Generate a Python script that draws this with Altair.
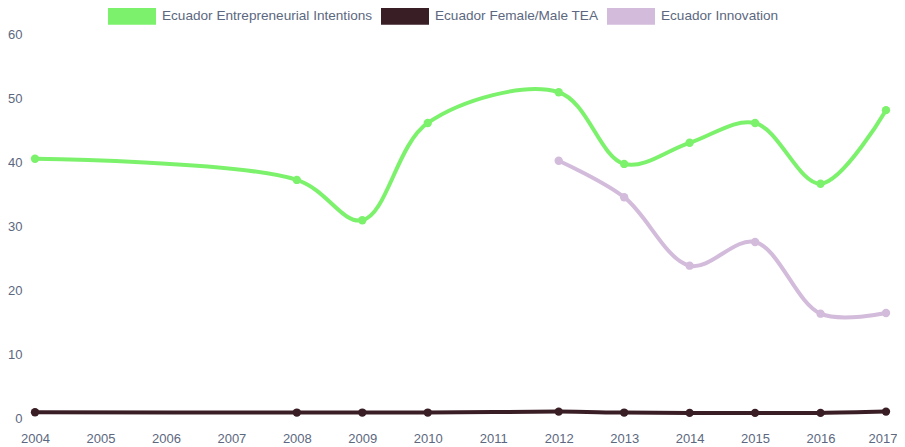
import altair as alt
import pandas as pd

years = [2004, 2008, 2009, 2010, 2012, 2013, 2014, 2015, 2016, 2017]
intentions = [40.5, 37.2, 30.9, 46.1, 50.9, 39.7, 43.0, 46.1, 36.6, 48.1]
female_male = [0.9, 0.85, 0.85, 0.85, 1.0, 0.85, 0.8, 0.8, 0.8, 1.0]
innov_years = [2012, 2013, 2014, 2015, 2016, 2017]
innovation = [40.2, 34.5, 23.8, 27.5, 16.3, 16.4]

series_names = ["Ecuador Entrepreneurial Intentions", "Ecuador Female/Male TEA", "Ecuador Innovation"]
colors = ["#7cf26c", "#3a1e25", "#d3bbdb"]
year_ticks = list(range(2004, 2018))

rows = []
for y, v in zip(years, intentions):
    rows.append({"year": y, "value": v, "series": series_names[0]})
for y, v in zip(years, female_male):
    rows.append({"year": y, "value": v, "series": series_names[1]})
for y, v in zip(innov_years, innovation):
    rows.append({"year": y, "value": v, "series": series_names[2]})
df = pd.DataFrame(rows)

font = "Liberation Sans"
label_color = "#5c6880"

color = alt.Color(
    "series:N",
    scale=alt.Scale(domain=series_names, range=colors),
    legend=alt.Legend(
        title=None,
        orient="none",
        legendX=73,
        legendY=-42,
        direction="horizontal",
        symbolType="M-1,-0.36 L1,-0.36 L1,0.36 L-1,0.36 Z",
        symbolSize=2304,
        symbolStrokeWidth=0,
        labelFont=font,
        labelFontSize=13.6,
        labelColor=label_color,
        labelLimit=0,
        labelOffset=6,
        columnPadding=8,
        padding=0,
    ),
)

x = alt.X(
    "year:Q",
    scale=alt.Scale(domain=[2004, 2017], nice=False, zero=False),
    axis=alt.Axis(
        title=None, values=year_ticks, format="d", ticks=False, domain=False,
        grid=False, labelFont=font, labelFontSize=13, labelColor=label_color,
        labelPadding=14, labelFlush=False, labelOverlap=False,
        labelAlign=alt.expr("datum.value == 2017 ? 'right' : 'center'"),
        labelOffset=alt.expr("datum.value == 2017 ? 11 : 0"),
    ),
)
y = alt.Y(
    "value:Q",
    scale=alt.Scale(domain=[0, 60], nice=False),
    axis=alt.Axis(
        title=None, values=[0, 10, 20, 30, 40, 50, 60], ticks=False, domain=False,
        grid=False, labelFont=font, labelFontSize=13, labelColor=label_color,
        labelPadding=13,
    ),
)

base = alt.Chart(df).encode(x=x, y=y, color=color, detail="series:N")
lines = base.mark_line(interpolate="catmull-rom", strokeWidth=4)
points = base.mark_circle(size=70, opacity=1)

chart = (
    alt.layer(lines, points)
    .properties(width=851, height=384, background="white",
                padding={"left": 27, "top": 26, "right": 11, "bottom": 29},
                autosize=alt.AutoSizeParams(type="none"))
    .configure_view(stroke="transparent", strokeWidth=0)
)

chart.save("out.html", embed_options={"renderer": "svg", "actions": False})
